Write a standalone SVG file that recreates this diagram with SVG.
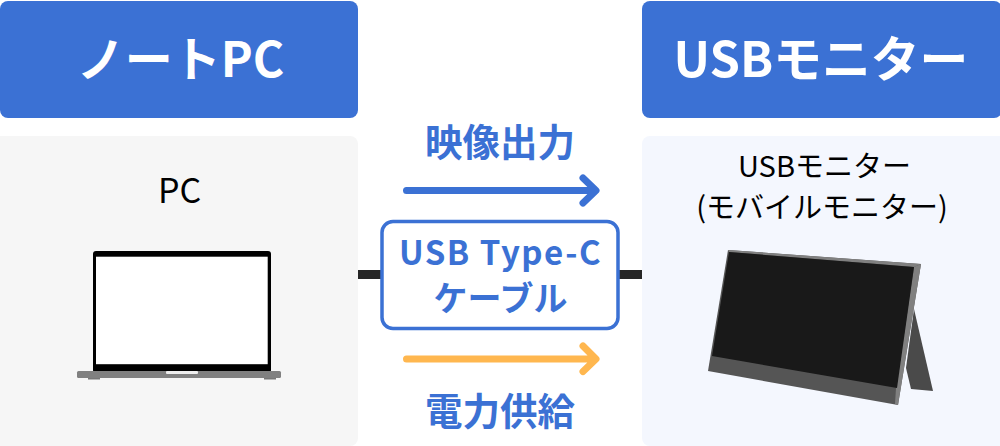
<svg xmlns="http://www.w3.org/2000/svg" width="1000" height="446" viewBox="0 0 1000 446">
<style>
text{font-family:"Noto Sans CJK JP","Noto Sans",sans-serif;text-anchor:middle}
.h{fill:#fff;font-weight:700;font-size:48.800px}
.b{fill:#3b71d4;font-weight:700;font-size:37.500px}
.c{fill:#3b71d4;font-weight:700;font-size:33px;letter-spacing:1.500px}
.k{fill:#3b71d4;font-weight:700;font-size:34px}
.l{fill:#000;font-weight:400;font-size:29px}
.a{fill:none;stroke-width:7;stroke-linecap:round;stroke-linejoin:round}
</style>
<rect width="1000" height="446" fill="#fff"/>
<g id="notepc-header"><rect x="0" y="1" width="358" height="117" rx="8" fill="#3b71d4"/><text class="h" style="font-size:48px" x="180.500" y="77">ノートPC</text></g>
<g id="monitor-header"><rect x="642" y="1" width="360" height="117" rx="8" fill="#3b71d4"/><text class="h" x="821" y="77">USBモニター</text></g>
<g id="pc-panel"><rect x="-8" y="136" width="366" height="310" rx="8" fill="#f6f6f6"/><text class="l" style="font-size:34px" x="179.500" y="203">PC</text>
<rect x="93" y="251" width="178" height="122" rx="3" fill="#000"/><rect x="96" y="256.700" width="171.700" height="107.500" fill="#fff"/>
<rect x="88" y="377" width="12" height="2.500" fill="#777"/><rect x="264" y="377" width="12" height="2.500" fill="#777"/>
<rect x="77" y="371" width="204" height="7" rx="1.500" fill="#808080"/><rect x="166" y="371" width="32" height="3" rx="1" fill="#eee"/></g>
<g id="monitor-panel"><rect x="642" y="136" width="366" height="310" rx="8" fill="#f4f7fe"/>
<text class="l" x="824.500" y="177">USBモニター</text><text class="l" x="822" y="218">(モバイルモニター)</text>
<polygon points="914,309 933,391 911,389 906,368" fill="#4a4a4a"/>
<polygon points="728,250 921,264 898,405 708,371" fill="#555"/>
<polygon points="728,250 921,264 914,267 729,252" fill="#808080"/>
<polygon points="921,264 914,267 896,388 895,404 898,405" fill="#808080"/>
<polygon points="729,252 914,267 897,388 712,356" fill="#191919"/></g>
<g id="connectors"><rect x="358" y="270" width="24" height="9" fill="#262626"/><rect x="618" y="270" width="24" height="9" fill="#262626"/>
<path class="a" stroke="#3b71d4" d="M406.500 190.500H595M583 178L596 190.500L583 203"/>
<path class="a" stroke="#ffb74f" d="M406.500 359H595M583 346L596 359L583 371.500"/></g>
<g id="cable"><rect x="382" y="221.500" width="236" height="107" rx="11" fill="#fff" stroke="#3b71d4" stroke-width="3.500"/>
<text class="c" x="500.500" y="265">USB Type-C</text><text class="k" x="500.500" y="311">ケーブル</text></g>
<g id="video-label"><text class="b" x="500" y="156">映像出力</text></g>
<g id="power-label"><text class="b" x="500" y="425">電力供給</text></g>
</svg>
